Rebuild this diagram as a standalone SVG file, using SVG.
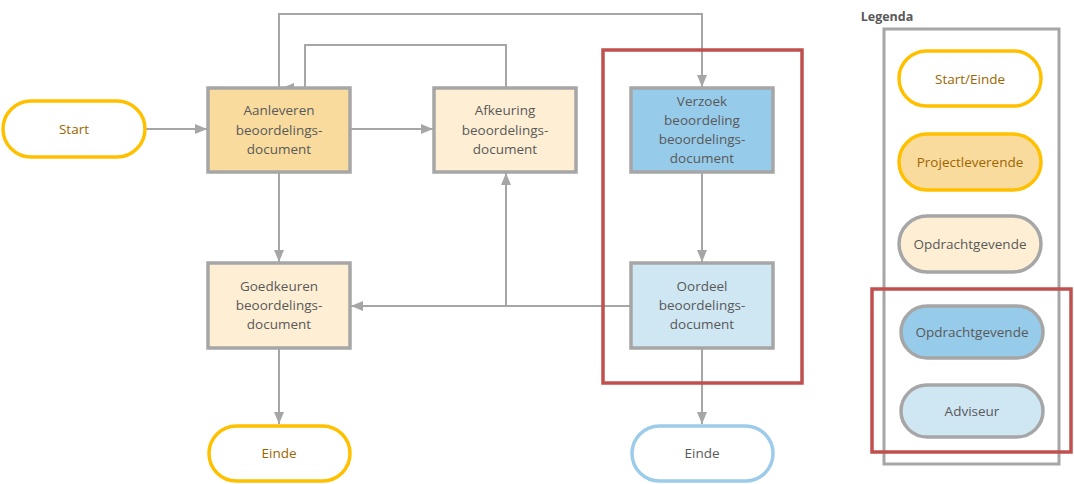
<svg xmlns="http://www.w3.org/2000/svg" width="1074" height="484" viewBox="0 0 1074 484">
<style>
text{font-family:"Open Sans","Liberation Sans",sans-serif;font-size:13.5px;text-anchor:middle;dominant-baseline:central;fill:#595959}
.gold{fill:#9C6500}
.proc{stroke:#A6A6A6;stroke-width:3.5}
.term{fill:#FFFFFF;stroke:#FFC000;stroke-width:3.5}
.conn{fill:none;stroke:#A6A6A6;stroke-width:2}
.red{fill:none;stroke:#C0504D;stroke-width:3.5}
</style>
<defs>
<marker id="ah" viewBox="0 0 12 10" refX="12" refY="5" markerWidth="12" markerHeight="10" markerUnits="userSpaceOnUse" orient="auto">
<path d="M0,0 L12,5 L0,10 Z" fill="#A6A6A6"/>
</marker>
</defs>
<g id="connectors">
<path class="conn" d="M145,129 H207" marker-end="url(#ah)"/>
<path class="conn" d="M350,129 H433" marker-end="url(#ah)"/>
<path class="conn" d="M279,172 V262" marker-end="url(#ah)"/>
<path class="conn" d="M279,348 V424" marker-end="url(#ah)"/>
<path class="conn" d="M702,172 V262" marker-end="url(#ah)"/>
<path class="conn" d="M702,348 V424" marker-end="url(#ah)"/>
<path class="conn" d="M631,306 H351" marker-end="url(#ah)"/>
<path class="conn" d="M506,306 V173" marker-end="url(#ah)"/>
<path class="conn" d="M506,88 V45 H305 V88 H282" marker-end="url(#ah)"/>
<path class="conn" d="M279,88 V14 H702 V87" marker-end="url(#ah)"/>
</g>
<g id="start"><rect class="term" x="3" y="101" width="142" height="56" rx="28"/><text class="gold" x="74" y="129">Start</text></g>
<g id="aanleveren"><rect class="proc" x="208" y="88" width="142" height="84" fill="#F9DB9E"/><text x="279" y="110">Aanleveren</text><text x="279" y="130">beoordelings-</text><text x="279" y="149">document</text></g>
<g id="afkeuring"><rect class="proc" x="434" y="88" width="142" height="84" fill="#FEEFD4"/><text x="505" y="110">Afkeuring</text><text x="505" y="130">beoordelings-</text><text x="505" y="149">document</text></g>
<g id="verzoek"><rect class="proc" x="631" y="88" width="142" height="84" fill="#97CBEA"/><text x="702" y="101">Verzoek</text><text x="702" y="120">beoordeling</text><text x="702" y="139">beoordelings-</text><text x="702" y="158">document</text></g>
<g id="goedkeuren"><rect class="proc" x="208" y="263" width="142" height="85" fill="#FEEFD4"/><text x="279" y="286">Goedkeuren</text><text x="279" y="305">beoordelings-</text><text x="279" y="324">document</text></g>
<g id="oordeel"><rect class="proc" x="631" y="263" width="142" height="85" fill="#CFE6F3"/><text x="702" y="286">Oordeel</text><text x="702" y="305">beoordelings-</text><text x="702" y="324">document</text></g>
<g id="einde1"><rect class="term" x="209" y="426" width="141" height="55" rx="27.5"/><text class="gold" x="279" y="453">Einde</text></g>
<g id="einde2"><rect class="term" x="632" y="426" width="141" height="55" rx="27.5" style="stroke:#9DCBEA"/><text x="702" y="453">Einde</text></g>
<g id="adviseur-zone"><rect class="red" x="603" y="50" width="199" height="333"/></g>
<g id="legend">
<text x="887" y="16" style="font-weight:bold;font-size:12.5px">Legenda</text>
<rect x="884" y="29" width="175" height="435" fill="none" stroke="#A6A6A6" stroke-width="3"/>
<g id="leg-start"><rect class="term" x="899" y="51" width="142" height="55" rx="27.5"/><text class="gold" x="970" y="79">Start/Einde</text></g>
<g id="leg-proj"><rect class="term" x="899" y="134" width="142" height="56" rx="28" style="fill:#F9DB9E"/><text class="gold" x="970" y="162">Projectleverende</text></g>
<g id="leg-opdr1"><rect class="proc" x="899" y="216" width="142" height="56" rx="28" fill="#FEEFD4"/><text x="970" y="244">Opdrachtgevende</text></g>
<g id="leg-opdr2"><rect class="proc" x="901" y="306" width="142" height="52" rx="26" fill="#97CBEA"/><text x="972" y="332">Opdrachtgevende</text></g>
<g id="leg-adv"><rect class="proc" x="901" y="385" width="142" height="52" rx="26" fill="#CFE6F3"/><text x="972" y="411">Adviseur</text></g>
<rect class="red" x="872" y="289" width="199" height="163"/>
</g>
</svg>
